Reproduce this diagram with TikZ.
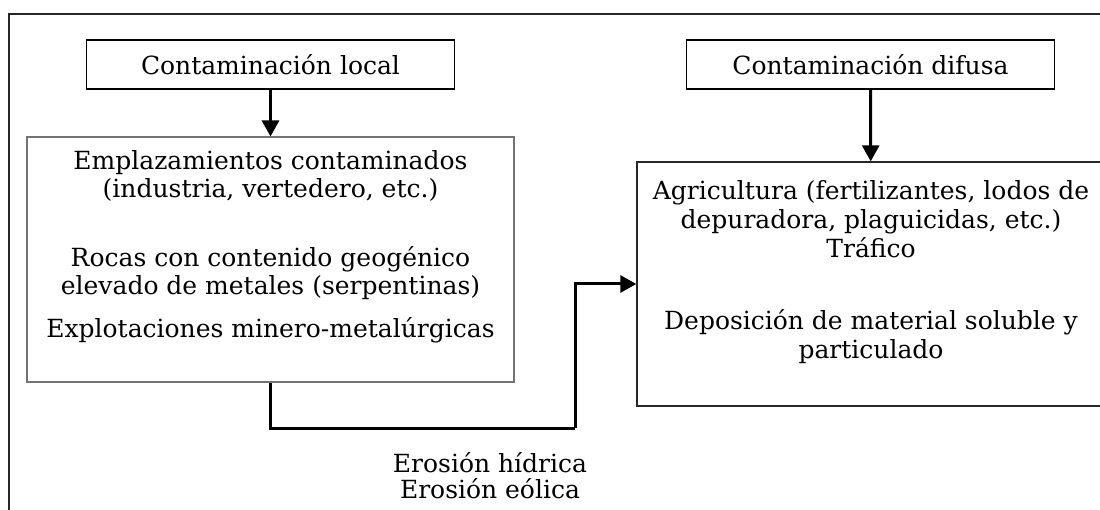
\documentclass[tikz,border=0pt]{standalone}
\usepackage{fontspec}
\setmainfont{DejaVu Serif}
\usetikzlibrary{arrows.meta,positioning}
\tikzset{
  srcbox/.style={draw, line width=1.8pt, minimum width=368pt, minimum height=49pt, align=center, font=\fontsize{25}{28}\selectfont},
  listbox/.style={draw, inner sep=0pt},
  listtext/.style={align=center, inner sep=0pt, font=\fontsize{25}{28}\selectfont},
  arrow/.style={-{Triangle[length=16pt,width=17pt]}, line width=3pt},
  route/.style={line width=3pt},
}

\begin{document}
\begin{tikzpicture}[x=1pt, y=-1pt]
    % Page and outer frame
    \useasboundingbox (0,0) rectangle (1100,510);
    \clip (0,0) rectangle (1100,510);
    \draw[line width=2pt, black!85] (8.5,14) rectangle (1120,530);

    % Sources
    \node[srcbox] (local) at (270.5,64.5) {Contaminación local};
    \node[srcbox] (difusa) at (870.5,64.5) {Contaminación difusa};

    % Source lists
    \node[listbox, draw=black!55, line width=1.1pt, minimum width=487pt, minimum height=245pt] (sitios) at (270.5,259.5) {};
    \node[listtext] (sitiostxt) at ([yshift=13pt]sitios.center)
      {Emplazamientos contaminados\\(industria, vertedero, etc.)\\[41pt]Rocas con contenido geogénico\\elevado de metales (serpentinas)\\[15pt]Explotaciones minero-metalúrgicas};
    \node[listbox, draw=black!85, line width=1.3pt, minimum width=468pt, minimum height=244pt] (fuentes) at (871,284) {};
    \node[listtext, font=\fontsize{25}{29}\selectfont] (fuentestxt) at ([yshift=12pt]fuentes.center)
      {Agricultura (fertilizantes, lodos de\\depuradora, plaguicidas, etc.)\\Tráfico\\[43pt]Deposición de material soluble y\\particulado};

    % Arrows
    \draw[arrow] (local) -- (sitios);
    \draw[arrow] (difusa) -- (fuentes);
    \coordinate (codo) at (575,428);
    \draw[route] (sitios.south) |- (codo);
    \draw[arrow] (codo) |- (fuentes.west);

    % Transport label
    \node[listtext, font=\fontsize{25}{26}\selectfont] (erosion) at (490,476) {Erosión hídrica\\Erosión eólica};
\end{tikzpicture}
\end{document}
